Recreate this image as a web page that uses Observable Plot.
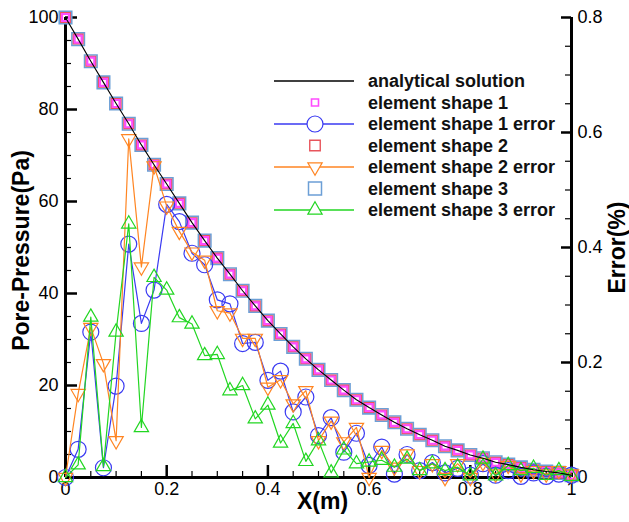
<!DOCTYPE html>
<html>
<head>
<meta charset="utf-8">
<script src="https://cdn.jsdelivr.net/npm/d3@7"></script>
<script src="https://cdn.jsdelivr.net/npm/@observablehq/plot@0.6"></script>
<style>
  html, body { margin: 0; padding: 0; background: #fff; }
  #chart { width: 629px; height: 522px; }
</style>
</head>
<body>
<div id="chart"></div>
<script>
// ---------- data ----------
const xs = [0,0.025,0.05,0.075,0.1,0.125,0.15,0.175,0.2,0.225,0.25,0.275,0.3,0.325,0.35,0.375,0.4,0.425,0.45,0.475,0.5,0.525,0.55,0.575,0.6,0.625,0.65,0.675,0.7,0.725,0.75,0.775,0.8,0.825,0.85,0.875,0.9,0.925,0.95,0.975,1];

// pore pressure (Pa) – analytical solution and the three element shapes (coincide)
const analytical = [100,95.3,90.5,85.9,81.3,76.9,72.3,68.0,63.8,59.6,55.4,51.5,47.7,44.2,40.6,37.3,34.1,31.2,28.4,25.8,23.4,21.2,19.0,16.9,15.2,13.6,12.0,10.6,9.3,8.1,6.8,5.9,4.9,4.2,3.3,2.8,2.2,1.7,1.3,1.0,0.5];
const shape1 = analytical.slice();
const shape2 = analytical.slice();
const shape3 = analytical.slice();

// error (%) – right axis
const shape1Err = [0,0.049,0.253,0.017,0.159,0.406,0.268,0.326,0.475,0.445,0.390,0.370,0.309,0.302,0.233,0.235,0.169,0.185,0.114,0.140,0.073,0.104,0.044,0.077,0.021,0.053,0.006,0.040,0.012,0.026,0.008,0.016,0.004,0.024,0.004,0.012,0.002,0.008,0.002,0.006,0.004];
const shape2Err = [0,0.146,0.261,0.198,0.064,0.589,0.366,0.542,0.472,0.428,0.392,0.378,0.290,0.286,0.242,0.242,0.157,0.170,0.128,0.151,0.064,0.098,0.062,0.087,0,0.047,0.018,0.041,0.012,0.024,0,0.024,0,0.026,0.006,0.021,0.006,0.012,0.006,0.012,0.006];
const shape3Err = [0,0.022,0.279,0.019,0.253,0.441,0.087,0.348,0.326,0.278,0.267,0.212,0.214,0.151,0.160,0.102,0.126,0.060,0.094,0.028,0.064,0.008,0.048,0.024,0.027,0.030,0.018,0.032,0.012,0.024,0.012,0.018,0.003,0.032,0.003,0.021,0.012,0.016,0.004,0.012,0.002];

// axis ticks
const xMajor = [0,0.2,0.4,0.6,0.8,1];
const xMinor = [0.05,0.1,0.15,0.25,0.3,0.35,0.45,0.5,0.55,0.65,0.7,0.75,0.85,0.9,0.95];
const yMajor = [0,20,40,60,80,100];
const yMinor = [5,10,15,25,30,35,45,50,55,65,70,75,85,90,95];
const errMajor = [0,0.2,0.4,0.6,0.8];
const errMinor = [0.05,0.1,0.15,0.25,0.3,0.35,0.45,0.5,0.55,0.65,0.7,0.75];

const legendLabels = ["analytical solution","element shape 1","element shape 1 error","element shape 2","element shape 2 error","element shape 3","element shape 3 error"];

// ---------- build ----------
const ERR_MAX = 0.8, P_MAX = 100;
const toLeft = e => e * P_MAX / ERR_MAX;   // map error (%) onto the pressure scale

const C = {
  mag: "#ff4cff", red: "#e8555c", sq3: "#6c9fd6",
  blue: "#3a3af2", orange: "#ff8522", green: "#22d622"
};

const pts = xs.map((x, i) => ({
  x, a: analytical[i], s1: shape1[i], s2: shape2[i], s3: shape3[i],
  e1: toLeft(shape1Err[i]), e2: toLeft(shape2Err[i]), e3: toLeft(shape3Err[i])
}));

const W = 629, H = 522, mL = 65, mR = 58, mT = 17, mB = 45;
const PW = W - mL - mR, PH = H - mT - mB;
const SQ = Math.sqrt(Math.PI);
const FONT = "'Liberation Sans', Arial, sans-serif";

const chart = Plot.plot({
  width: W, height: H,
  marginLeft: mL, marginRight: mR, marginTop: mT, marginBottom: mB,
  x: {domain: [0, 1]},
  y: {domain: [0, 100]},
  style: {fontFamily: FONT, fontSize: "18px", color: "black", background: "white"},
  marks: [
    // axes labels
    Plot.axisX(xMajor, {tickSize: 0, tickPadding: 5, fontSize: 18, label: null,
      tickFormat: d => (d === 0 || d === 1) ? String(d) : d.toFixed(1)}),
    Plot.axisY(yMajor, {anchor: "left", tickSize: 0, tickPadding: 7, fontSize: 18, label: null}),
    Plot.axisY(errMajor.map(toLeft), {anchor: "right", tickSize: 0, tickPadding: 6, fontSize: 18, label: null,
      tickFormat: d => String(+(d * ERR_MAX / P_MAX).toFixed(2))}),
    // tick marks (inside)
    Plot.ruleY(yMajor, {insetRight: PW - 12, stroke: "black", strokeWidth: 2.5}),
    Plot.ruleY(yMinor, {insetRight: PW - 6, stroke: "black", strokeWidth: 1.2}),
    Plot.ruleY(errMajor.map(toLeft), {insetLeft: PW - 10, stroke: "black", strokeWidth: 2.5}),
    Plot.ruleY(errMinor.map(toLeft), {insetLeft: PW - 6, stroke: "black", strokeWidth: 1.2}),
    Plot.ruleX(xMajor, {insetTop: PH - 12, stroke: "black", strokeWidth: 2.5}),
    Plot.ruleX(xMinor, {insetTop: PH - 6, stroke: "black", strokeWidth: 1.2}),
    // axis lines
    Plot.ruleX([0, 1], {stroke: "black", strokeWidth: 3}),
    Plot.ruleY([0], {stroke: "black", strokeWidth: 3}),
    // axis titles
    Plot.text(["Pore-Pressure(Pa)"], {frameAnchor: "left", textAnchor: "middle", lineAnchor: "middle", dx: -44, dy: 3, rotate: -90, fontSize: 23, fontWeight: "bold"}),
    Plot.text(["Error(%)"], {frameAnchor: "right", textAnchor: "middle", lineAnchor: "middle", dx: 46, rotate: -90, fontSize: 23, fontWeight: "bold"}),
    Plot.text(["X(m)"], {frameAnchor: "bottom", textAnchor: "middle", lineAnchor: "middle", dy: 24, dx: 4, fontSize: 23, fontWeight: "bold"}),
    // element shape squares
    Plot.dot(pts, {x: "x", y: "s3", symbol: "square", r: 12.5 / SQ, stroke: C.sq3, strokeWidth: 1.6, fill: "none"}),
    Plot.dot(pts, {x: "x", y: "s2", symbol: "square", r: 9.5 / SQ, stroke: C.red, strokeWidth: 1.5, fill: "none"}),
    Plot.dot(pts, {x: "x", y: "s1", symbol: "square", r: 7 / SQ, stroke: C.mag, strokeWidth: 2.2, fill: "none"}),
    // error series
    Plot.line(pts, {x: "x", y: "e1", stroke: C.blue, strokeWidth: 1.2}),
    Plot.dot(pts, {x: "x", y: "e1", r: 8, stroke: C.blue, strokeWidth: 1.2, fill: "none"}),
    Plot.line(pts, {x: "x", y: "e2", stroke: C.orange, strokeWidth: 1.2}),
    Plot.dot(pts, {x: "x", y: "e2", symbol: "triangle", rotate: 180, r: 5.3, stroke: C.orange, strokeWidth: 1.2, fill: "none"}),
    Plot.line(pts, {x: "x", y: "e3", stroke: C.green, strokeWidth: 1.2}),
    Plot.dot(pts, {x: "x", y: "e3", symbol: "triangle", r: 5.3, stroke: C.green, strokeWidth: 1.2, fill: "none"}),
    // analytical line
    Plot.line(pts, {x: "x", y: "a", stroke: "black", strokeWidth: 1.1})
  ]
});
document.getElementById("chart").appendChild(chart);

// ---------- legend ----------
const svg = d3.select(chart);
const lg = svg.append("g").attr("class", "legend").attr("text-anchor", "start");
const rowY = [81, 102.5, 124, 145.5, 167, 188.5, 210];
const lx1 = 274, lx2 = 354, mx = 315, tx = 368;
const items = [
  {line: "black", sym: null},
  {line: null, sym: d3.symbolSquare, size: 7 * 7, color: C.mag, sw: 1.6},
  {line: C.blue, sym: d3.symbolCircle, size: Math.PI * 64, color: C.blue, sw: 1.2},
  {line: null, sym: d3.symbolSquare, size: 10.5 * 10.5, color: C.red, sw: 1.4},
  {line: C.orange, sym: d3.symbolTriangle, size: Math.PI * 5.3 * 5.3, color: C.orange, sw: 1.2, rot: 180},
  {line: null, sym: d3.symbolSquare, size: 13 * 13, color: C.sq3, sw: 1.5},
  {line: C.green, sym: d3.symbolTriangle, size: Math.PI * 5.3 * 5.3, color: C.green, sw: 1.2}
];
items.forEach((it, i) => {
  const y = rowY[i];
  if (it.line) lg.append("line").attr("x1", lx1).attr("x2", lx2).attr("y1", y).attr("y2", y)
    .attr("stroke", it.line).attr("stroke-width", 1.3);
  if (it.sym) lg.append("path").attr("d", d3.symbol(it.sym, it.size)())
    .attr("transform", `translate(${mx},${y})` + (it.rot ? ` rotate(${it.rot})` : ""))
    .attr("fill", "white").attr("stroke", it.color).attr("stroke-width", it.sw);
  lg.append("text").attr("x", tx).attr("y", y).attr("dy", "0.36em")
    .attr("text-anchor", "start")
    .attr("font-family", FONT).attr("font-size", 18).attr("font-weight", "bold")
    .attr("fill", "#111").text(legendLabels[i]);
});
</script>
</body>
</html>
